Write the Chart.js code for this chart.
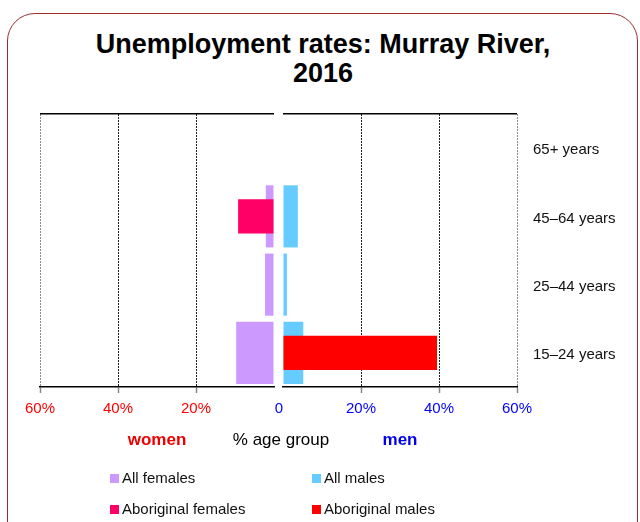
<!DOCTYPE html>
<html>
<head>
<meta charset="utf-8">
<script src="https://cdn.jsdelivr.net/npm/chart.js@4.4.1/dist/chart.umd.min.js"></script>
<style>
html,body{margin:0;padding:0;background:#fff;}
#wrap{position:relative;width:640px;height:522px;overflow:hidden;font-family:"Liberation Sans",Arial,sans-serif;}
#frame{position:absolute;left:7px;top:13px;width:631px;height:580px;border:1px solid #9b2d2d;border-radius:28px;box-sizing:border-box;}
#title{position:absolute;left:0;width:646px;top:30px;text-align:center;font-weight:bold;font-size:27px;line-height:29px;color:#000;}
canvas{position:absolute;left:0;top:0;}
#mid{position:absolute;top:430px;left:281px;transform:translateX(-50%);font-size:17px;line-height:20px;color:#000;white-space:nowrap;}
.sq{position:absolute;width:9px;height:9px;}
.lt{position:absolute;font-size:15px;line-height:18px;color:#111;white-space:nowrap;}
</style>
</head>
<body>
<div id="wrap">
  <div id="frame"></div>
  <div id="title">Unemployment rates: Murray River,<br>2016</div>
  <canvas id="cf" width="640" height="522"></canvas>
  <canvas id="cm" width="640" height="522"></canvas>
  <div id="mid">% age group</div>
  <div id="legend"></div>
</div>
<script>
// ---- data ----
const categories = ['65+ years', '45–64 years', '25–44 years', '15–24 years'];
const allFemales = [0, 2.1, 2.3, 9.7];
const aboriginalFemales = [0, 9.2, 0, 0];
const allMales = [0, 3.8, 1.0, 5.2];
const aboriginalMales = [0, 0, 0, 39.5];
const xTickValues = [0, 20, 40, 60];
const legendNames = ['All females', 'All males', 'Aboriginal females', 'Aboriginal males'];

// ---- styles ----
const FONT = "'Liberation Sans', Arial, sans-serif";
const colors = {
  'All females': '#cc99ff',
  'Aboriginal females': '#ff0066',
  'All males': '#66ccff',
  'Aboriginal males': '#ff0000'
};

function xAxis(isFemale) {
  return {
    type: 'linear',
    position: 'bottom',
    stacked: false,
    min: 0, max: 60,
    reverse: isFemale,
    afterBuildTicks: s => { s.ticks = xTickValues.map(v => ({value: v})); },
    afterFit: s => { s.height = 64; },
    ticks: {
      color: isFemale ? '#ff0000' : '#0000ff',
      font: {family: FONT, size: 15},
      padding: 7,
      maxRotation: 0,
      autoSkip: false,
      callback: v => v === 0 ? (isFemale ? '' : '0  ') : v + '%'
    },
    grid: {
      color: c => (c.tick && c.tick.value === 0) ? 'rgba(0,0,0,0)' : (c.tick && c.tick.value === 60 ? '#8a8a8a' : '#222222'),
      lineWidth: 1,
      drawTicks: true,
      tickLength: 6,
      tickColor: c => (c.tick && c.tick.value === 0) ? 'rgba(0,0,0,0)' : '#888888',
      tickBorderDash: [],
      tickWidth: 1.5
    },
    border: {display: true, color: '#000', width: 1.5, dash: [2, 1]},
    title: {
      display: true,
      text: isFemale ? 'women' : 'men',
      color: isFemale ? '#ee0000' : '#0000ee',
      font: {family: FONT, size: 17, weight: 'bold'},
      padding: {top: 0, bottom: 0}
    }
  };
}

function yAxis(isFemale) {
  return {
    type: 'category',
    position: isFemale ? 'left' : 'right',
    stacked: false,
    afterFit: s => { s.width = isFemale ? 0 : 123; },
    ticks: {
      display: !isFemale,
      color: '#111',
      font: {family: FONT, size: 15},
      padding: 16,
      labelOffset: 2
    },
    grid: {
      offset: true,
      drawTicks: false,
      color: c => c.index === 0 ? '#000' : 'rgba(0,0,0,0)',
      lineWidth: 1.5
    },
    border: {display: false}
  };
}

function barSet(label, data, pct, order) {
  return {
    label, data,
    order: order,
    backgroundColor: colors[label],
    borderWidth: 0,
    barPercentage: pct,
    categoryPercentage: 1,
    grouped: false
  };
}

const common = {
  responsive: false,
  animation: false,
  indexAxis: 'y',
  plugins: {legend: {display: false}, tooltip: {enabled: false}}
};

new Chart(document.getElementById('cf'), {
  type: 'bar',
  data: {
    labels: categories,
    datasets: [
      barSet('All females', allFemales, 0.91, 1),
      barSet('Aboriginal females', aboriginalFemales, 0.5, 0)
    ]
  },
  options: Object.assign({}, common, {
    layout: {padding: {left: 40, right: 366, top: 114, bottom: 71}},
    scales: {x: xAxis(true), y: yAxis(true)}
  })
});

new Chart(document.getElementById('cm'), {
  type: 'bar',
  data: {
    labels: categories,
    datasets: [
      barSet('All males', allMales, 0.91, 1),
      barSet('Aboriginal males', aboriginalMales, 0.5, 0)
    ]
  },
  options: Object.assign({}, common, {
    layout: {padding: {left: 283, right: 0, top: 114, bottom: 71}},
    scales: {x: xAxis(false), y: yAxis(false)}
  })
});

// ---- legend (HTML) ----
const legPos = [[110, 478], [312, 478], [110, 509], [312, 509]];
const leg = document.getElementById('legend');
legendNames.forEach((n, i) => {
  const [x, y] = legPos[i];
  const s = document.createElement('div');
  s.className = 'sq';
  s.style.left = x + 'px';
  s.style.top = (y - 4) + 'px';
  s.style.background = colors[n];
  leg.appendChild(s);
  const t = document.createElement('div');
  t.className = 'lt';
  t.style.left = (x + 12) + 'px';
  t.style.top = (y - 9) + 'px';
  t.textContent = n;
  leg.appendChild(t);
});
</script>
</body>
</html>
